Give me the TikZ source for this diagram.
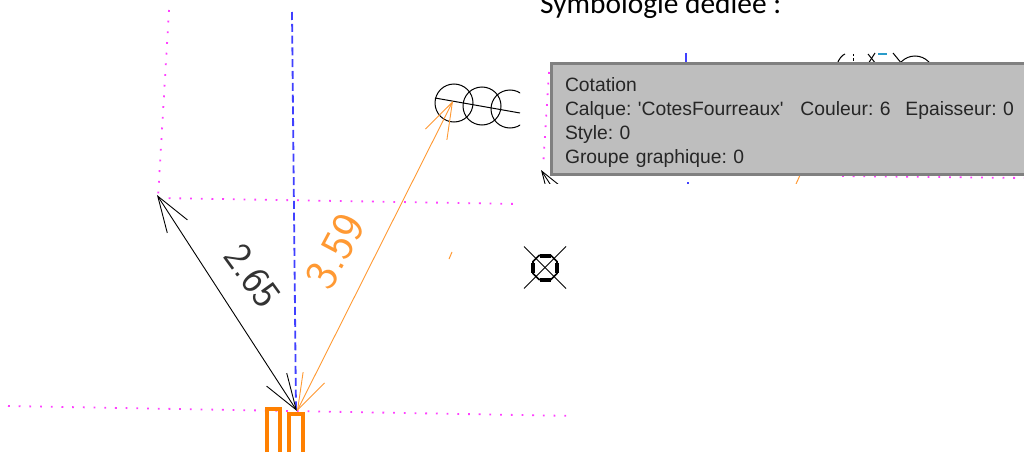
\documentclass[tikz,border=0pt]{standalone}
\usepackage{fontspec}
\setmainfont{Carlito}
\newfontfamily\tipfont{Liberation Sans}
\usetikzlibrary{arrows.meta}
\definecolor{cotefourreau}{HTML}{FF9933}
\definecolor{fourreauorange}{HTML}{FF8000}
\definecolor{axeblue}{HTML}{4040FF}
\definecolor{dotmagenta}{HTML}{FF40FF}
\definecolor{tipfill}{HTML}{BEBEBE}
\definecolor{tipline}{HTML}{808080}

\begin{document}
\begin{tikzpicture}[x=1pt,y=-1pt
	,>={Straight Barb[length=36pt,width=24pt]}
	,cote/.style={<->,line width=.9pt}
	,ligne/.style={dash pattern=on 1.8pt off 8.9pt,line width=1.8pt,dotmagenta}
	,axe/.style={dash pattern=on 8pt off 3.8pt,line width=1.8pt,axeblue}
	,fourreau/.style={line width=4.2pt,fourreauorange}
	,tube/.style={circle,draw,line width=1pt,minimum size=38pt,inner sep=0pt}
	,chiffre/.style={font=\sffamily\fontsize{#1}{#1}\selectfont,inner sep=0pt}
	,trait/.style={line width=1pt}
	]
  \useasboundingbox (0,0) rectangle (1024,452);

  % title
  \node[anchor=base west,inner sep=0pt,font=\fontsize{29.4}{30}\selectfont] (titre) at (540,14) {Symbologie dédiée :};

  % points
  \coordinate (p0) at (157,195);
  \coordinate (p1) at (297,411);
  \coordinate (p2) at (453,101);
  \coordinate (p3) at (435,98);
  \coordinate (p4) at (520,113);
  \coordinate (h0) at (158,198);
  \coordinate (h1) at (520,204);
  \coordinate (v0) at (169,10);
  \coordinate (b0) at (8,406);
  \coordinate (b1) at (575,416);
  \coordinate (a0) at (292,12);
  \coordinate (a1) at (296,410);

  % dotted + dashed lines
  \draw[ligne] (v0) -- (h0);
  \draw[ligne] (h0) -- (h1);
  \draw[ligne] (b0) -- (b1);
  \draw[axe] (a0) -- (a1);

  % tubes, cut at the edge
  \begin{scope}
    \clip (400,60) rectangle (520,150);
    \node[tube] (t1) at (454,103) {};
    \node[tube] (t2) at (482,106) {};
    \node[tube] (t3) at (510,109) {};
    \draw[trait] (p3) -- (p4);
  \end{scope}

  % dimensions
  \draw[cote,black] (p0) -- (p1);
  \draw[cote,cotefourreau] (p1) -- (p2);
  \node[chiffre=40,rotate=-54,black!80] (c265) at (253,276) {2.65};
  \node[chiffre=46,rotate=62,cotefourreau] (c359) at (335,251) {3.59};

  % sheaths
  \draw[fourreau] (267,452) |- (280,409) -- (280,452);
  \draw[fourreau] (289,452) |- (303,414) -- (303,452);

  % small mark
  \coordinate (m0) at (449,259);
  \coordinate (m1) at (452,252);
  \draw[cotefourreau,trait] (m0) -- (m1);

  % symbol
  \coordinate (s) at (545,267.5);
  \draw[line width=.8pt] (s) ++(-21,-21) -- ++(42,42);
  \draw[line width=.8pt] (s) ++(21,-21) -- ++(-42,42);
  \draw[line width=1.6pt] (s) ++(-6,-12) -- ++(12,0) -- ++(6,6) -- ++(0,12) -- ++(-6,6) -- ++(-12,0) -- ++(-6,-6) -- ++(0,-12) -- cycle;
  \draw[line width=4pt] (s) ++(-5.5,-12) -- ++(11,0);
  \draw[line width=4pt] (s) ++(-5.5,12) -- ++(11,0);
  \draw[line width=4pt] (s) ++(-12,-5) -- ++(0,10);
  \draw[line width=4pt] (s) ++(12,-5) -- ++(0,10);

  % second view, behind the tooltip
  \begin{scope}
    \clip (522,50) rectangle (1024,183);
    \coordinate (q0) at (549,72);
    \coordinate (q1) at (543,168);
    \coordinate (q2) at (541,170);
    \coordinate (q3) at (681,386);
    \draw[ligne] (q0) -- (q1);
    \draw[cote,black] (q2) -- (q3);
    \coordinate (r0) at (842,176);
    \coordinate (r1) at (1024,178);
    \draw[ligne] (r0) -- (r1);
    \coordinate (u0) at (686,53);
    \coordinate (u1) at (686,66);
    \draw[line width=1.5pt,axeblue] (u0) -- (u1);
    \coordinate (u2) at (688,182);
    \coordinate (u3) at (688,184);
    \draw[line width=1.5pt,axeblue] (u2) -- (u3);
    \coordinate (w0) at (801,173);
    \coordinate (w1) at (796,184);
    \draw[cotefourreau,trait] (w0) -- (w1);
    % bits of tubes
    \draw[trait] (837,64) .. controls (839,59) and (842,55) .. (845,54);
    \draw[trait,dash pattern=on 2pt off 2.5pt] (853,54) -- (853,64);
    \draw[trait] (868,64) -- (875,53);
    \draw[trait] (868,54) -- (876,64);
    \draw[line width=2.5pt,cyan!80!black] (878,54) -- (887,54);
    \draw[trait] (893,53) -- (902,64);
    \node[tube] (t6) at (915,75) {};
  \end{scope}

  % tooltip
  \node[anchor=north west,draw=tipline,fill=tipfill,line width=3pt,inner xsep=13.5pt,inner ysep=6pt
    ,text width=490pt,align=left,minimum height=111pt
    ,font=\tipfont\fontsize{19.3}{24.2}\selectfont\frenchspacing,text=black!85] (tooltip) at (550,62)
    {\rule{0pt}{21pt}Cotation\\
     \makebox[235.5pt][l]{Calque: 'CotesFourreaux'}\makebox[105pt][l]{Couleur: 6}Epaisseur: 0\\
     Style: 0\\
     Groupe graphique: 0};
\end{tikzpicture}
\end{document}
